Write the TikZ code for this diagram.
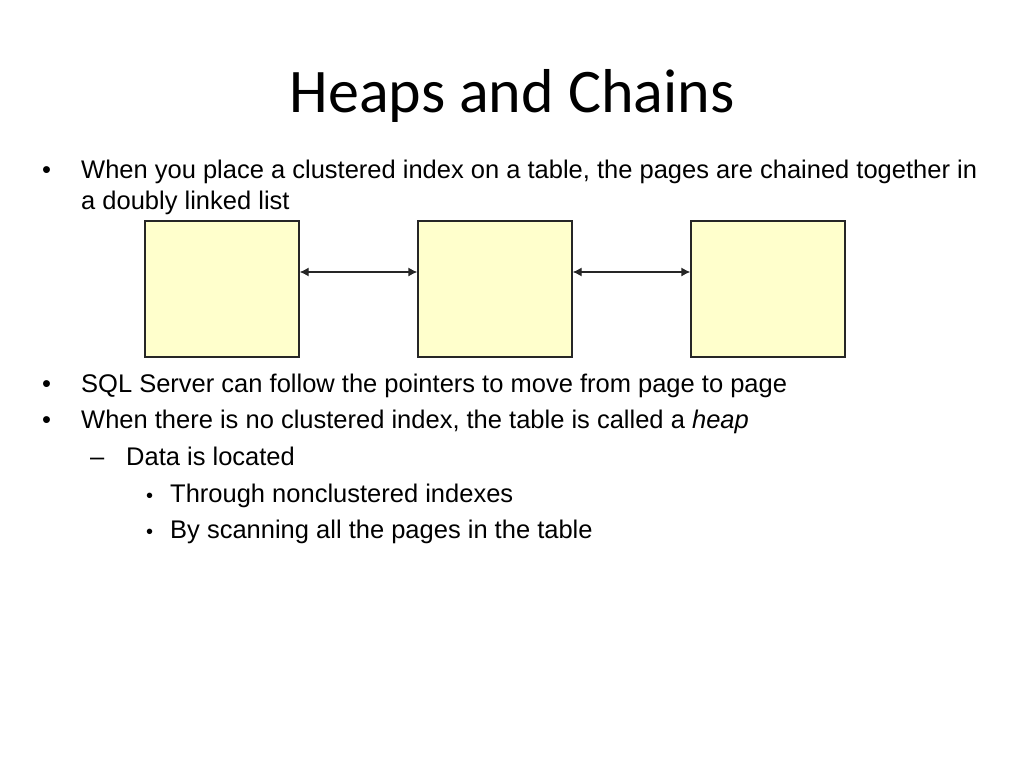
\documentclass[tikz,border=0pt]{standalone}
\usepackage{fontspec}
\setmainfont{Liberation Sans}
\newfontfamily\titlefont{Carlito}
\usetikzlibrary{arrows.meta}
\begin{document}
\begin{tikzpicture}[x=1pt,y=-1pt,
  body/.style={anchor=base west,inner sep=0pt,font=\fontsize{25.5}{30}\selectfont},
  page/.style={draw=black!85,line width=1.3pt,fill={rgb,255:red,255;green,255;blue,204},inner sep=0pt,minimum width=154pt,minimum height=136pt},
  link/.style={line width=1.3pt,draw=black!85,{Latex[length=9pt,width=9pt]}-{Latex[length=9pt,width=9pt]}}]
\useasboundingbox[fill=white] (0,0) rectangle (1024,768);
\node[anchor=base,inner sep=0pt,font=\titlefont\fontsize{62}{70}\selectfont] (title) at (512,112) {Heaps and Chains};
% level 1 bullets
\node[body] (b1) at (42,178) {•};
\node[body] (t1) at (81,178) {When you place a clustered index on a table, the pages are chained together in};
\node[body] (t1b) at (81,209) {a doubly linked list};
% pages
\node[page] (p1) at (222,289) {};
\node[page] (p2) at (495,289) {};
\node[page] (p3) at (768,289) {};
\draw[link] ([yshift=17pt]p1.east) -- ([yshift=17pt]p2.west);
\draw[link] ([yshift=17pt]p2.east) -- ([yshift=17pt]p3.west);
\node[body] (b2) at (42,392) {•};
\node[body] (t2) at (81,392) {SQL Server can follow the pointers to move from page to page};
\node[body] (b3) at (42,428) {•};
\node[body] (t3) at (81,428) {When there is no clustered index, the table is called a \textit{heap}};
\node[body] (d1) at (90,465) {–};
\node[body] (t4) at (126,465) {Data is located};
\node[body,font=\fontsize{20}{24}\selectfont] (b4) at (146,502) {•};
\node[body] (t5) at (170,502) {Through nonclustered indexes};
\node[body,font=\fontsize{20}{24}\selectfont] (b5) at (146,538) {•};
\node[body] (t6) at (170,538) {By scanning all the pages in the table};
\end{tikzpicture}
\end{document}
